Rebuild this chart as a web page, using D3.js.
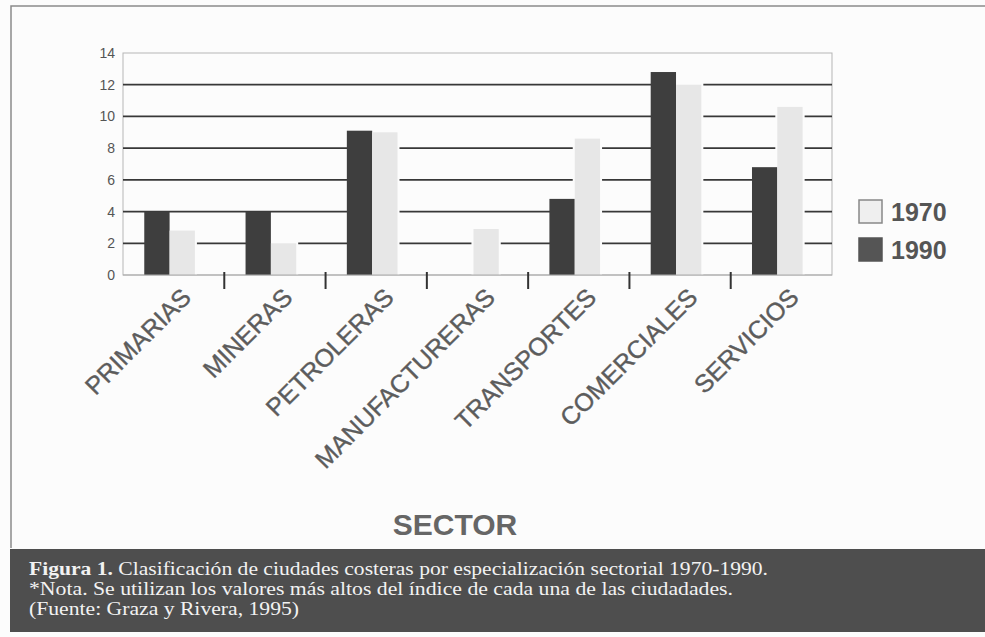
<!DOCTYPE html>
<html>
<head>
<meta charset="utf-8">
<script src="https://cdn.jsdelivr.net/npm/d3@7/dist/d3.min.js"></script>
<style>
  html, body { margin: 0; padding: 0; background: #fcfcfc; }
  svg { display: block; }
</style>
</head>
<body>
<svg id="chart" width="985" height="637"></svg>
<script>
// ---- data ----
const categories = ["PRIMARIAS", "MINERAS", "PETROLERAS", "MANUFACTURERAS", "TRANSPORTES", "COMERCIALES", "SERVICIOS"];
const values1990 = [4.0, 4.0, 9.1, 0, 4.8, 12.8, 6.8];
const values1970 = [2.8, 2.0, 9.0, 2.9, 8.6, 12.0, 10.6];
const seriesOrder = ["1990", "1970"];          // order of bars inside a group
const legendItems = ["1970", "1990"];          // order in the legend
const yTickValues = [0, 2, 4, 6, 8, 10, 12, 14];
const axisTitle = "SECTOR";
const captionLines = [
  { bold: "Figura 1.", rest: " Clasificación de ciudades costeras por especialización sectorial 1970-1990." },
  { bold: "", rest: "*Nota. Se utilizan los valores más altos del índice de cada una de las ciudadades." },
  { bold: "", rest: "(Fuente: Graza y Rivera, 1995)" }
];

(function () {
// ---- build table ----
const table = categories.map((c, i) => ({ cat: c, "1990": values1990[i], "1970": values1970[i] }));

const colors = { "1990": "#3e3e3e", "1970": "#e7e7e7" };

const svg = d3.select("#chart");
const W = 985, H = 637;

// outer frame
svg.append("path")
  .attr("d", `M11,548 L11,6 L985,6`)
  .attr("fill", "none").attr("stroke", "#8a8a8a").attr("stroke-width", 1.5);

// plot geometry
const pLeft = 123, pRight = 832, pTop = 53, pBottom = 275;

const x = d3.scaleBand().domain(categories).range([pLeft, pRight]).padding(0);
const bw = x.bandwidth();
const xs = d3.scaleBand().domain(seriesOrder).range([bw * 0.21, bw * 0.71]).padding(0);
const y = d3.scaleLinear().domain([0, 14]).range([pBottom, pTop]);

const g = svg.append("g");

// plot frame (light)
g.append("rect")
  .attr("x", pLeft).attr("y", y(14))
  .attr("width", pRight - pLeft).attr("height", y(0) - y(14))
  .attr("fill", "none").attr("stroke", "#b5b5b5").attr("stroke-width", 1);

// gridlines (dark) for 2..12
g.append("g")
  .selectAll("line")
  .data(yTickValues.filter(v => v > 0 && v < 14))
  .join("line")
  .attr("x1", pLeft).attr("x2", pRight)
  .attr("y1", d => y(d)).attr("y2", d => y(d))
  .attr("stroke", "#383838").attr("stroke-width", 1.8);

// y axis labels
const yAxis = d3.axisLeft(y).tickValues(yTickValues).tickSize(0).tickPadding(8);
const ya = g.append("g").attr("transform", `translate(${pLeft},0)`).call(yAxis);
ya.select(".domain").remove();
ya.selectAll("text")
  .attr("font-family", "Liberation Sans, Arial, sans-serif")
  .attr("font-size", 14).attr("fill", "#555");

// halos around light bars (the white gaps in gridlines)
const groups = g.append("g").selectAll("g")
  .data(table).join("g")
  .attr("transform", d => `translate(${x(d.cat)},0)`);

groups.filter(d => d["1970"] > 0).append("rect")
  .attr("x", d => xs("1970") - 2)
  .attr("width", xs.bandwidth() + 4)
  .attr("y", d => y(d["1970"]) - 2)
  .attr("height", d => y(0) - y(d["1970"]) + 2)
  .attr("fill", "#fcfcfc");

groups.selectAll("rect.bar")
  .data(d => seriesOrder.map(s => ({ s, v: d[s] })))
  .join("rect")
  .attr("class", "bar")
  .attr("x", d => xs(d.s))
  .attr("width", xs.bandwidth())
  .attr("y", d => y(d.v))
  .attr("height", d => y(0) - y(d.v))
  .attr("fill", d => colors[d.s]);

// x axis line and ticks between categories
g.append("line")
  .attr("x1", pLeft).attr("x2", pRight)
  .attr("y1", y(0)).attr("y2", y(0))
  .attr("stroke", "#aaa").attr("stroke-width", 1);

g.append("g").selectAll("line")
  .data(categories.slice(1))
  .join("line")
  .attr("x1", d => x(d)).attr("x2", d => x(d))
  .attr("y1", y(0) - 3).attr("y2", y(0) + 14)
  .attr("stroke", "#333").attr("stroke-width", 2);

// rotated category labels
g.append("g").selectAll("text")
  .data(categories)
  .join("text")
  .attr("transform", d => `translate(${x(d) + bw / 2 + 19},${y(0) + 24}) rotate(-45)`)
  .attr("text-anchor", "end")
  .attr("font-family", "Liberation Sans, Arial, sans-serif")
  .attr("font-size", 25)
  .attr("fill", "#5c5c5c")
  .attr("stroke", "#5c5c5c").attr("stroke-width", 0.4)
  .text(d => d);

// axis title
svg.append("text")
  .attr("x", 455).attr("y", 535)
  .attr("text-anchor", "middle")
  .attr("font-family", "Liberation Sans, Arial, sans-serif")
  .attr("font-size", 30).attr("font-weight", "bold")
  .attr("fill", "#666")
  .text(axisTitle);

// legend
const legend = svg.append("g").attr("transform", "translate(859,200)");
const li = legend.selectAll("g").data(legendItems).join("g")
  .attr("transform", (d, i) => `translate(0,${i * 38})`);
li.append("rect")
  .attr("width", 23).attr("height", 23)
  .attr("fill", d => d === "1970" ? "#efefef" : "#555")
  .attr("stroke", d => d === "1970" ? "#888" : "#555")
  .attr("stroke-width", 1.5);
li.append("text")
  .attr("x", 32).attr("y", 21)
  .attr("font-family", "Liberation Sans, Arial, sans-serif")
  .attr("font-size", 25).attr("font-weight", "bold")
  .attr("fill", "#555")
  .text(d => d);

// caption box
svg.append("rect")
  .attr("x", 10).attr("y", 549).attr("width", W - 10).attr("height", 83)
  .attr("fill", "#4e4e4e");

const capEnds = [768, 733, 299];
const cap = svg.append("g");
captionLines.forEach((ln, i) => {
  const t = cap.append("text")
    .attr("x", 29).attr("y", 575 + i * 20)
    .attr("font-family", "Liberation Serif, DejaVu Serif, serif")
    .attr("font-size", 18)
    .attr("fill", "#f2f2f2")
    .attr("textLength", capEnds[i] - 29)
    .attr("lengthAdjust", "spacingAndGlyphs");
  if (ln.bold) t.append("tspan").attr("font-weight", "bold").text(ln.bold);
  t.append("tspan").text(ln.rest);
});
})();
</script>
</body>
</html>
